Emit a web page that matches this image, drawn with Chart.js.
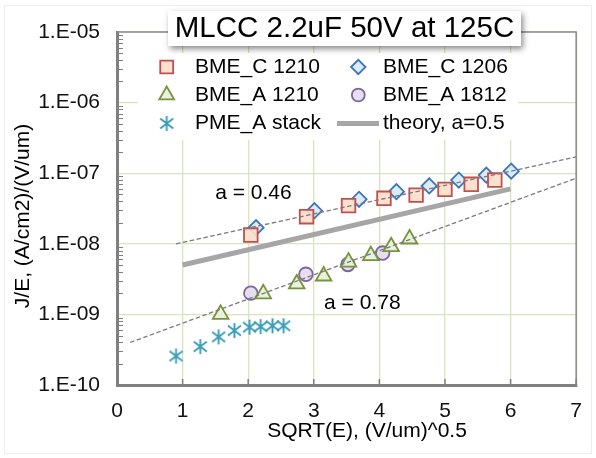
<!DOCTYPE html>
<html><head><meta charset="utf-8">
<script src="https://cdn.jsdelivr.net/npm/chart.js@4.4.1/dist/chart.umd.min.js"></script>
<style>html,body{margin:0;padding:0;background:#fff;}canvas{display:block;}</style>
</head><body>
<canvas id="c" width="596" height="458"></canvas>
<script>
// ---------- data ----------
const titleText = 'MLCC 2.2uF 50V at 125C';
const xAxisTitle = 'SQRT(E), (V/um)^0.5';
const yAxisTitle = 'J/E, (A/cm2)/(V/um)';
const xTickValues = [0, 1, 2, 3, 4, 5, 6, 7];
const xTickLabels = ['0', '1', '2', '3', '4', '5', '6', '7'];
const yTickValues = [1e-10, 1e-9, 1e-8, 1e-7, 1e-6, 1e-5];
const yTickLabels = ['1.E-10', '1.E-09', '1.E-08', '1.E-07', '1.E-06', '1.E-05'];

const bmeC1210X = [2.04, 2.89, 3.53, 4.07, 4.56, 5.00, 5.40, 5.76];
const bmeC1210Y = [1.33e-8, 2.42e-8, 3.47e-8, 4.41e-8, 4.9e-8, 5.9e-8, 6.97e-8, 8.0e-8];
const bmeC1206X = [2.12, 3.01, 3.69, 4.26, 4.76, 5.21, 5.63, 6.01];
const bmeC1206Y = [1.69e-8, 2.94e-8, 4.27e-8, 5.47e-8, 6.59e-8, 8.0e-8, 9.4e-8, 1.07e-7];
const bmeA1210X = [1.58, 2.23, 2.74, 3.15, 3.53, 3.87, 4.18, 4.46];
const bmeA1210Y = [1.0e-9, 1.95e-9, 2.7e-9, 3.5e-9, 5.5e-9, 6.8e-9, 9.1e-9, 1.17e-8];
const bmeA1812X = [2.04, 2.88, 3.52, 4.05];
const bmeA1812Y = [2.0e-9, 3.7e-9, 5.1e-9, 7.4e-9];
const pmeAX = [0.90, 1.27, 1.55, 1.79, 2.02, 2.19, 2.37, 2.54];
const pmeAY = [2.57e-10, 3.5e-10, 4.8e-10, 5.9e-10, 6.6e-10, 6.7e-10, 6.9e-10, 6.9e-10];
const theoryX = [1.0, 6.0];
const theoryY = [5.0e-9, 6.0e-8];
const fitUpperX = [0.9, 7.0];
const fitUpperY = [1.0e-8, 1.7e-7];
const fitLowerX = [0.2, 7.0];
const fitLowerY = [4.0e-10, 8.5e-8];
const annotTexts = ['a = 0.46', 'a = 0.78'];
const annotX = [2.08, 3.74];
const annotY = [5.25e-8, 1.45e-9];

// ---------- styling ----------
const FONT = "'Liberation Sans', Arial, sans-serif";
Chart.defaults.font.family = FONT;
Chart.defaults.color = '#111';

function pts(xs, ys) { return xs.map((x, i) => ({ x: x, y: ys[i] })); }

function makeStar(color) {
  const c = document.createElement('canvas');
  c.width = 17; c.height = 17;
  const g = c.getContext('2d');
  g.strokeStyle = color; g.lineWidth = 1.9;
  g.beginPath();
  g.moveTo(8.5, 1); g.lineTo(8.5, 16);
  g.moveTo(2, 3.5); g.lineTo(15, 13.5);
  g.moveTo(2, 13.5); g.lineTo(15, 3.5);
  g.stroke();
  return c;
}
const starImg = makeStar('#3a9cb8');

const markerSets = [
  { label: 'BME_C 1210', xs: bmeC1210X, ys: bmeC1210Y, style: 'rect', r: 9.6, bc: '#c0504d', bg: 'rgba(252,222,204,0.9)' },
  { label: 'BME_C 1206', xs: bmeC1206X, ys: bmeC1206Y, style: 'rectRot', r: 7.6, bc: '#3f74b6', bg: 'rgba(214,234,246,0.9)' },
  { label: 'BME_A 1210', xs: bmeA1210X, ys: bmeA1210Y, style: 'triangle', r: 9, bc: '#77933c', bg: 'rgba(232,239,218,0.9)' },
  { label: 'BME_A 1812', xs: bmeA1812X, ys: bmeA1812Y, style: 'circle', r: 6.8, bc: '#7f63a1', bg: 'rgba(226,220,236,0.9)' },
  { label: 'PME_A stack', xs: pmeAX, ys: pmeAY, style: starImg, r: 8, bc: '#3a9cb8', bg: '#3a9cb8' }
];

const datasets = [
  { label: 'fitUpper', data: pts(fitUpperX, fitUpperY), showLine: true, borderColor: '#7a7a7a', borderWidth: 1.3, borderDash: [4.5, 2.5], pointRadius: 0, order: 0 },
  { label: 'fitLower', data: pts(fitLowerX, fitLowerY), showLine: true, borderColor: '#7a7a7a', borderWidth: 1.3, borderDash: [4.5, 2.5], pointRadius: 0, order: 0 }
];
markerSets.forEach(m => datasets.push({
  label: m.label, data: pts(m.xs, m.ys), showLine: false,
  pointStyle: m.style, pointRadius: m.r, pointHoverRadius: m.r,
  pointBorderColor: m.bc, pointBackgroundColor: m.bg, pointBorderWidth: 1.8,
  borderColor: m.bc, backgroundColor: m.bg, order: 1
}));
datasets.push({ label: 'theory, a=0.5', data: pts(theoryX, theoryY), showLine: true, borderColor: '#a6a6a6', borderWidth: 5, pointRadius: 0, order: 2 });

function drawMarker(ctx, m, x, y) {
  ctx.save();
  ctx.fillStyle = m.bg; ctx.strokeStyle = m.bc; ctx.lineWidth = 1.8;
  if (Chart.helpers && Chart.helpers.drawPoint) {
    Chart.helpers.drawPoint(ctx, { pointStyle: m.style, radius: m.r, borderWidth: 1.8, rotation: 0 }, x, y);
  } else if (typeof m.style !== 'string') {
    ctx.drawImage(m.style, x - m.style.width / 2, y - m.style.height / 2);
  }
  ctx.restore();
}

const deco = {
  id: 'deco',
  beforeDraw(chart) {
    const ctx = chart.ctx;
    ctx.save();
    ctx.fillStyle = '#fff';
    ctx.fillRect(0, 0, chart.width, chart.height);
    ctx.strokeStyle = '#ededed'; ctx.lineWidth = 1;
    ctx.strokeRect(4.5, 5.5, 587, 448);
    ctx.restore();
  },
  beforeDatasetsDraw(chart) {
    const { ctx, chartArea: a, scales: { x, y } } = chart;
    ctx.save();
    // top and right frame
    ctx.strokeStyle = '#8a8a8a'; ctx.lineWidth = 1.5;
    ctx.beginPath();
    ctx.moveTo(a.left, a.top); ctx.lineTo(a.right, a.top); ctx.lineTo(a.right, a.bottom);
    ctx.stroke();
    // minor ticks on y axis (inside)
    ctx.strokeStyle = '#808080'; ctx.lineWidth = 1;
    ctx.beginPath();
    for (let d = 0; d < yTickValues.length - 1; d++) {
      for (let m = 2; m <= 9; m++) {
        const py = Math.round(y.getPixelForValue(yTickValues[d] * m)) + 0.5;
        ctx.moveTo(a.left, py); ctx.lineTo(a.left + 6, py);
      }
    }
    ctx.stroke();
    // x ticks (inside)
    ctx.lineWidth = 1.5;
    ctx.beginPath();
    xTickValues.forEach(v => {
      const px = x.getPixelForValue(v);
      ctx.moveTo(px, a.bottom); ctx.lineTo(px, a.bottom - 6);
    });
    ctx.stroke();
    // legend box
    ctx.fillStyle = '#fff';
    ctx.fillRect(138, 53, 380, 87);
    const rows = [67, 95, 123.5];
    const colM = [166.7, 358.3], colT = [195, 383];
    ctx.font = `21px ${FONT}`; ctx.textBaseline = 'middle'; ctx.textAlign = 'left'; ctx.fillStyle = '#000';
    const legendItems = markerSets.map(m => ({ kind: 'marker', m: m, label: m.label }));
    legendItems.push({ kind: 'line', label: 'theory, a=0.5' });
    legendItems.forEach((it, i) => {
      const col = i % 2, row = Math.floor(i / 2);
      const yy = rows[row];
      if (it.kind === 'marker') {
        drawMarker(ctx, Object.assign({}, it.m, { r: it.m.r * 0.95 }), colM[col], yy);
      } else {
        ctx.save(); ctx.strokeStyle = '#a6a6a6'; ctx.lineWidth = 5;
        ctx.beginPath(); ctx.moveTo(337, yy); ctx.lineTo(379, yy); ctx.stroke(); ctx.restore();
      }
      ctx.fillStyle = '#000';
      ctx.fillText(it.label, colT[col], yy);
    });
    ctx.restore();
  },
  afterDatasetsDraw(chart) {
    const { ctx, scales: { x, y } } = chart;
    ctx.save();
    ctx.font = `21px ${FONT}`; ctx.textAlign = 'center'; ctx.textBaseline = 'middle'; ctx.fillStyle = '#000';
    annotTexts.forEach((t, i) => ctx.fillText(t, x.getPixelForValue(annotX[i]), y.getPixelForValue(annotY[i])));
    ctx.restore();
  },
  afterDraw(chart) {
    const ctx = chart.ctx;
    ctx.save();
    // title box with shadow
    ctx.shadowColor = 'rgba(0,0,0,0.45)'; ctx.shadowBlur = 6; ctx.shadowOffsetX = 2; ctx.shadowOffsetY = 3;
    ctx.fillStyle = '#fff';
    ctx.fillRect(168, 11, 353, 35);
    ctx.restore();
    ctx.save();
    ctx.fillStyle = '#000'; ctx.textAlign = 'center'; ctx.textBaseline = 'middle';
    ctx.font = `29.5px ${FONT}`;
    ctx.fillText(titleText, 344.5, 28.5);
    // axis titles
    ctx.font = `21px ${FONT}`;
    ctx.fillText(xAxisTitle, 367, 431);
    ctx.translate(23, 216); ctx.rotate(-Math.PI / 2);
    ctx.fillText(yAxisTitle, 0, 0);
    ctx.restore();
  }
};

new Chart(document.getElementById('c'), {
  type: 'scatter',
  data: { datasets: datasets },
  options: {
    responsive: false, animation: false, devicePixelRatio: 1,
    layout: { padding: { top: 32, right: 13, left: 0, bottom: 0 } },
    plugins: { legend: { display: false }, tooltip: { enabled: false }, title: { display: false } },
    scales: {
      x: {
        type: 'linear', min: 0, max: 7,
        afterBuildTicks: s => { s.ticks = xTickValues.map(v => ({ value: v })); },
        afterFit: s => { s.height = 73; },
        grid: { color: '#d7e4bd', lineWidth: 1.3, drawTicks: false },
        border: { color: '#808080', width: 3 },
        ticks: { padding: 14, font: { size: 21 }, color: '#111', maxRotation: 0, autoSkip: false,
          callback: (v, i) => xTickLabels[i] }
      },
      y: {
        type: 'logarithmic', min: 1e-10, max: 1e-5,
        afterBuildTicks: s => { s.ticks = yTickValues.map(v => ({ value: v })); },
        afterFit: s => { s.width = 117; },
        grid: { color: '#d7e4bd', lineWidth: 1.3, drawTicks: false },
        border: { color: '#808080', width: 3 },
        ticks: { padding: 17, font: { size: 21 }, color: '#111', autoSkip: false,
          callback: (v, i) => yTickLabels[i] }
      }
    }
  },
  plugins: [deco]
});
</script>
</body></html>
